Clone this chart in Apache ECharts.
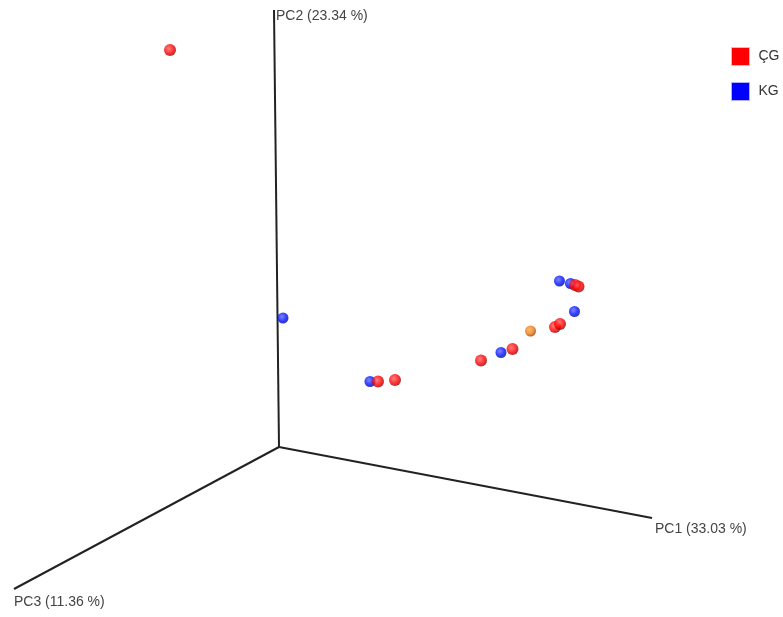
<!DOCTYPE html>
<html><head><meta charset="utf-8">
<script src="https://cdn.jsdelivr.net/npm/echarts@6/dist/echarts.min.js"></script>
<style>html,body{margin:0;padding:0;background:#fff}#c{width:783px;height:617px}</style>
</head><body><div id="c"></div>
<script>
// projected PCoA coordinates (screen-space view of the 3D plot)
const origin = [279, 447];
const axisEnds = [[652, 518], [274, 10], [14, 589]];
const axisNames = ['PC1 (33.03 %)', 'PC2 (23.34 %)', 'PC3 (11.36 %)'];
const groupCG = [[170, 50], [378, 381.5], [395, 380], [481, 360.5], [512.5, 349], [555, 327], [560, 324], [575, 285], [578.5, 286.5]];
const groupKG = [[283, 318], [370, 381.5], [501, 352.5], [574.5, 311.5], [559.5, 281], [570.5, 283.5]];
const groupOther = [[530.5, 331]];

function ball(c1, c2, c3) {
  return new echarts.graphic.RadialGradient(0.4, 0.38, 0.65, [
    {offset: 0, color: c1}, {offset: 0.6, color: c2}, {offset: 1, color: c3}
  ]);
}
const chart = echarts.init(document.getElementById('c'), null, {renderer: 'canvas'});
const labelPos = [[3, 4], [2, -1], [0, 6]];
const axisSeries = axisEnds.map((e, i) => ({
  type: 'line', symbol: 'none', silent: true, z: 1,
  lineStyle: {color: '#222', width: 2},
  data: [origin, {value: e, symbol: 'circle', symbolSize: 0.1,
    label: {show: true, formatter: axisNames[i], position: labelPos[i], align: 'left', verticalAlign: 'top',
      color: '#444', fontSize: 14, fontFamily: 'Arial, Liberation Sans, sans-serif'}}]
}));
chart.setOption({
  animation: false,
  grid: {left: 0, right: 0, top: 0, bottom: 0},
  xAxis: {type: 'value', min: 0, max: 783, show: false},
  yAxis: {type: 'value', min: 0, max: 617, inverse: true, show: false},
  legend: {
    data: [{name: 'ÇG', itemStyle: {color: '#ff0000', opacity: 1, borderWidth: 1, borderColor: '#ffb0b0'}},
           {name: 'KG', itemStyle: {color: '#0000ff', opacity: 1, borderWidth: 1, borderColor: '#b0b0ff'}}],
    orient: 'vertical', left: 726, top: 42, icon: 'rect', itemWidth: 18, itemHeight: 18, itemGap: 16,
    textStyle: {fontSize: 14, color: '#333', fontFamily: 'Arial, Liberation Sans, sans-serif', padding: [0, 0, 0, 4]}
  },
  series: axisSeries.concat([
    {name: 'KG', type: 'scatter', z: 3, symbolSize: 11, data: groupKG,
      itemStyle: {color: ball('#5a66ff', '#0010ff', '#000a90')}},
    {name: 'ÇG', type: 'scatter', z: 4, symbolSize: 12, data: groupCG,
      itemStyle: {color: ball('#ff6060', '#ff0000', '#900000')}},
    {name: 'other', type: 'scatter', z: 3, symbolSize: 11, data: groupOther,
      itemStyle: {color: ball('#ffa850', '#ee7a10', '#8a4000')}}
  ])
});
</script></body></html>
